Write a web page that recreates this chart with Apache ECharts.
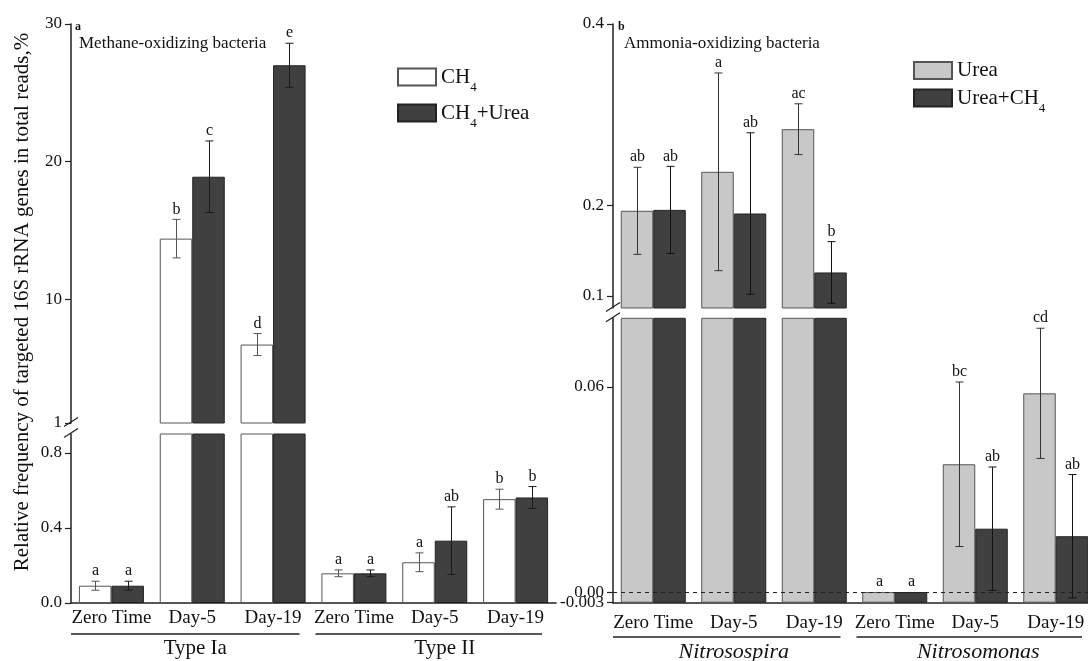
<!DOCTYPE html>
<html><head><meta charset="utf-8">
<script src="https://cdn.jsdelivr.net/npm/echarts@6/dist/echarts.min.js"></script>
<style>html,body{margin:0;padding:0;background:#fff}#c{width:1088px;height:661px}</style>
</head><body><div id="c"></div>
<script>
// ---------------- data ----------------
const categories = ['Zero Time', 'Day-5', 'Day-19', 'Zero Time', 'Day-5', 'Day-19'];
const groupLabelsA = ['Type Ia', 'Type II'];
const groupLabelsB = ['Nitrosospira', 'Nitrosomonas'];

// panel a: methane-oxidizing bacteria (Type Ia x3, Type II x3)
const ch4        = [0.092, 14.4, 6.7, 0.158, 0.217, 0.553];
const ch4Sd      = [0.024, 1.4, 0.8, 0.018, 0.05, 0.053];
const ch4Sig     = ['a', 'b', 'd', 'a', 'a', 'b'];
const ch4Urea    = [0.092, 18.9, 27.0, 0.158, 0.332, 0.562];
const ch4UreaSd  = [0.024, 2.6, 1.6, 0.018, 0.18, 0.058];
const ch4UreaSig = ['a', 'c', 'e', 'a', 'ab', 'b'];

// panel b: ammonia-oxidizing bacteria (Nitrosospira x3, Nitrosomonas x3)
const urea       = [0.194, 0.237, 0.284, 0.0001, 0.0374, 0.0581];
const ureaSd     = [0.048, 0.109, 0.028, 0, 0.024, 0.019];
const ureaSig    = ['ab', 'a', 'ac', 'a', 'bc', 'cd'];
const ureaCh4    = [0.195, 0.191, 0.126, 0.0001, 0.0186, 0.0164];
const ureaCh4Sd  = [0.048, 0.089, 0.034, 0, 0.018, 0.018];
const ureaCh4Sig = ['ab', 'ab', 'b', 'a', 'ab', 'ab'];

// tick values / labels
const yTicksAUp  = [1, 10, 20, 30];
const yTicksALow = [0, 0.4, 0.8];
const yLabelsALow = ['0.0', '0.4', '0.8'];
const yTicksBUp  = [0.1, 0.2, 0.4];
const yLabelsBUp = ['0.1', '0.2', '0.4'];
const yTicksBLow = [0, 0.06];
const yLabelsBLow = ['0.00', '0.06'];
const yTicksBMin = [-0.003];
const yLabelsBMin = ['-0.003'];

const yTitle = 'Relative frequency of targeted 16S rRNA genes in total reads,%';

// ---------------- styling / layout ----------------
const FONT = 'Liberation Serif';
const TXT = '#111';
const AX = '#222';
const BAR_W = 32.5;

const G = [
  { left: 71,  width: 485, top: 24,    height: 399,   min: 1,      max: 30 },   // a upper
  { left: 71,  width: 485, top: 434,   height: 169,   min: 0,      max: 0.9 },  // a lower
  { left: 613, width: 483, top: 24,    height: 284,   min: 0.0868, max: 0.4 },  // b upper
  { left: 613, width: 483, top: 318.3, height: 284.4, min: -0.003, max: 0.08 }  // b lower
];

function labelFrom(ticks, labels) {
  return function (v) {
    let best = 0;
    for (let i = 1; i < ticks.length; i++) if (Math.abs(ticks[i] - v) < Math.abs(ticks[best] - v)) best = i;
    return labels ? labels[best] : String(ticks[best]);
  };
}

function yAx(gi, ticks, fmt, extra) {
  return Object.assign({
    type: 'value', gridIndex: gi, min: G[gi].min, max: G[gi].max, position: 'left', offset: 0,
    splitLine: { show: false },
    axisLine: { show: true, lineStyle: { color: AX, width: 1.5 } },
    axisTick: { show: true, inside: false, length: 6, customValues: ticks, lineStyle: { color: AX, width: 1.2 } },
    axisLabel: { customValues: ticks, formatter: fmt, color: TXT, fontFamily: FONT, fontSize: 17, margin: 9,
                 hideOverlap: false }
  }, extra || {});
}

function xAx(gi, show, margin) {
  return {
    type: 'category', gridIndex: gi, data: categories, boundaryGap: true, show: true,
    axisLine: { show: show, onZero: false, lineStyle: { color: AX, width: 1.6 } },
    axisTick: { show: false },
    axisLabel: { show: show, interval: 0, color: TXT, fontFamily: FONT, fontSize: 19, margin: margin || 6 },
    splitLine: { show: false }
  };
}

function barS(name, data, gi, color, border, z, extra) {
  return Object.assign({
    type: 'bar', name: name, xAxisIndex: gi, yAxisIndex: gi, data: data,
    barWidth: BAR_W, barGap: '0%', clip: true, z: z,
    itemStyle: { color: color, borderColor: border, borderWidth: 1 },
    emphasis: { disabled: true }, silent: true
  }, extra || {});
}

function errS(gi, vals, sds, sig, side, color) {
  const data = vals.map((v, i) => [i, v - sds[i], v + sds[i], v]);
  const mn = G[gi].min, mx = G[gi].max;
  return {
    type: 'custom', xAxisIndex: gi, yAxisIndex: gi, data: data, z: 6, silent: true,
    renderItem: function (params, api) {
      const i = api.value(0), lo = api.value(1), hi = api.value(2);
      if (lo < mn || hi > mx) return null;
      const c = api.coord([i, hi]);
      const cx = Math.round(c[0] + side * BAR_W / 2) + 0.5;
      const yTop = c[1];
      const yBot = api.coord([i, lo])[1];
      const cap = 4;
      const st = { stroke: color, lineWidth: 1 };
      const ch = [];
      if (hi - lo > 0) {
        ch.push({ type: 'line', shape: { x1: cx, y1: yTop, x2: cx, y2: yBot }, style: st });
        ch.push({ type: 'line', shape: { x1: cx - cap, y1: yTop, x2: cx + cap, y2: yTop }, style: st });
        ch.push({ type: 'line', shape: { x1: cx - cap, y1: yBot, x2: cx + cap, y2: yBot }, style: st });
      }
      ch.push({
        type: 'text', x: cx, y: yTop - 2,
        style: { text: sig[params.dataIndex], fontFamily: FONT, fontSize: 16, fill: TXT,
                 align: 'center', verticalAlign: 'bottom', textAlign: 'center', textVerticalAlign: 'bottom' }
      });
      return { type: 'group', children: ch };
    }
  };
}

function subFmt(name) {
  const parts = name.split('CH4');
  return parts.map(p => p ? '{n|' + p + '}' : '').join('{n|CH}{s|4}');
}
const richLegend = {
  n: { fontFamily: FONT, fontSize: 21, lineHeight: 24, color: TXT },
  s: { fontFamily: FONT, fontSize: 13, lineHeight: 13, padding: [22, 0, 0, 0], color: TXT }
};

// ---------------- graphics (titles, breaks, group labels) ----------------
const graphics = [];
graphics.push({
  type: 'text', x: 22, y: 302, rotation: Math.PI / 2,
  style: { text: yTitle, fontFamily: FONT, fontSize: 21, fill: TXT,
           align: 'center', verticalAlign: 'middle', textAlign: 'center', textVerticalAlign: 'middle' }
});
// axis-break slashes
[[0, 1], [2, 3]].forEach(function (pair) {
  const x = G[pair[0]].left;
  const yUp = G[pair[0]].top + G[pair[0]].height;
  const yLow = G[pair[1]].top;
  [yUp - 1, yLow - 1].forEach(function (y) {
    graphics.push({ type: 'line', shape: { x1: x - 7, y1: y + 4.5, x2: x + 7, y2: y - 4.5 },
                    style: { stroke: AX, lineWidth: 1.3 } });
  });
});
// group underlines + labels
[
  { gi: 1, labels: groupLabelsA, lineY: 634, textY: 648, size: 21, style: 'normal', off: [3, 10] },
  { gi: 3, labels: groupLabelsB, lineY: 637, textY: 652, size: 22, style: 'italic', off: [0, 3] }
].forEach(function (p) {
  const g = G[p.gi];
  const band = g.width / 6;
  p.labels.forEach(function (lab, k) {
    const gs = g.left + k * 3 * band;
    const ge = gs + 3 * band;
    graphics.push({ type: 'line', shape: { x1: gs + (k ? 2 : 0), y1: p.lineY, x2: ge - 14, y2: p.lineY },
                    style: { stroke: AX, lineWidth: 1.5 } });
    graphics.push({ type: 'text', x: (gs + ge) / 2 + p.off[k], y: p.textY,
      style: { text: lab, fontFamily: FONT, fontSize: p.size, fontStyle: p.style, fill: TXT,
               align: 'center', verticalAlign: 'middle', textAlign: 'center', textVerticalAlign: 'middle' } });
  });
});

// ---------------- option ----------------
const titleStyle = { fontFamily: FONT, fontSize: 17, fontWeight: 'normal', color: TXT };
const option = {
  animation: false,
  backgroundColor: '#fff',
  title: [
    { text: 'Methane-oxidizing bacteria', left: 79, top: 35, padding: 0, textStyle: titleStyle },
    { text: 'Ammonia-oxidizing bacteria', left: 624, top: 35, padding: 0, textStyle: titleStyle },
    { text: 'a', left: 75, top: 21, padding: 0, textStyle: { fontFamily: FONT, fontSize: 12, fontWeight: 'bold', color: TXT } },
    { text: 'b', left: 618, top: 21, padding: 0, textStyle: { fontFamily: FONT, fontSize: 12, fontWeight: 'bold', color: TXT } }
  ],
  legend: [
    { data: ['CH4', 'CH4+Urea'], orient: 'vertical', left: 397, top: 59.5, padding: 0,
      itemWidth: 38, itemHeight: 17, itemGap: 1, icon: 'rect', selectedMode: false,
      formatter: subFmt, textStyle: { rich: richLegend } },
    { data: ['Urea', 'Urea+CH4'], orient: 'vertical', left: 913, top: 60, padding: 0,
      itemWidth: 38, itemHeight: 17, itemGap: -0.5, icon: 'rect', selectedMode: false,
      formatter: subFmt, textStyle: { rich: richLegend } }
  ],
  grid: G.map(g => ({ left: g.left, width: g.width, top: g.top, height: g.height,
                      containLabel: false, outerBoundsMode: 'none' })),
  xAxis: [ xAx(0, false), xAx(1, true, 6), xAx(2, false), xAx(3, true, 11) ],
  yAxis: [
    yAx(0, yTicksAUp, labelFrom(yTicksAUp)),
    yAx(1, yTicksALow, labelFrom(yTicksALow, yLabelsALow)),
    yAx(2, yTicksBUp, labelFrom(yTicksBUp, yLabelsBUp)),
    yAx(3, yTicksBLow, labelFrom(yTicksBLow, yLabelsBLow), { startValue: -0.003 }),
    // separate axis on the same grid just for the bottom "-0.003" label (avoids overlap hiding)
    yAx(3, yTicksBMin, labelFrom(yTicksBMin, yLabelsBMin), { axisLine: { show: false } })
  ],
  series: [
    barS('CH4', ch4, 0, '#ffffff', '#555', 2),
    barS('CH4+Urea', ch4Urea, 0, '#404040', '#222', 3),
    barS('CH4', ch4, 1, '#ffffff', '#555', 2),
    barS('CH4+Urea', ch4Urea, 1, '#404040', '#222', 3),
    barS('Urea', urea, 2, '#c8c8c8', '#555', 2),
    barS('Urea+CH4', ureaCh4, 2, '#404040', '#222', 3),
    barS('Urea', urea, 3, '#c8c8c8', '#555', 2),
    barS('Urea+CH4', ureaCh4, 3, '#404040', '#222', 3, {
      markLine: { silent: true, symbol: 'none', z: 5, label: { show: false },
                  lineStyle: { type: [4, 4], color: '#222', width: 1 },
                  data: [{ yAxis: 0 }] }
    }),
    errS(0, ch4, ch4Sd, ch4Sig, -1, '#555'),
    errS(0, ch4Urea, ch4UreaSd, ch4UreaSig, 1, '#1a1a1a'),
    errS(1, ch4, ch4Sd, ch4Sig, -1, '#555'),
    errS(1, ch4Urea, ch4UreaSd, ch4UreaSig, 1, '#1a1a1a'),
    errS(2, urea, ureaSd, ureaSig, -1, '#333'),
    errS(2, ureaCh4, ureaCh4Sd, ureaCh4Sig, 1, '#111'),
    errS(3, urea, ureaSd, ureaSig, -1, '#333'),
    errS(3, ureaCh4, ureaCh4Sd, ureaCh4Sig, 1, '#111')
  ],
  graphic: { elements: graphics }
};

const chart = echarts.init(document.getElementById('c'), null, { renderer: 'canvas' });
chart.setOption(option);
</script>
</body></html>
